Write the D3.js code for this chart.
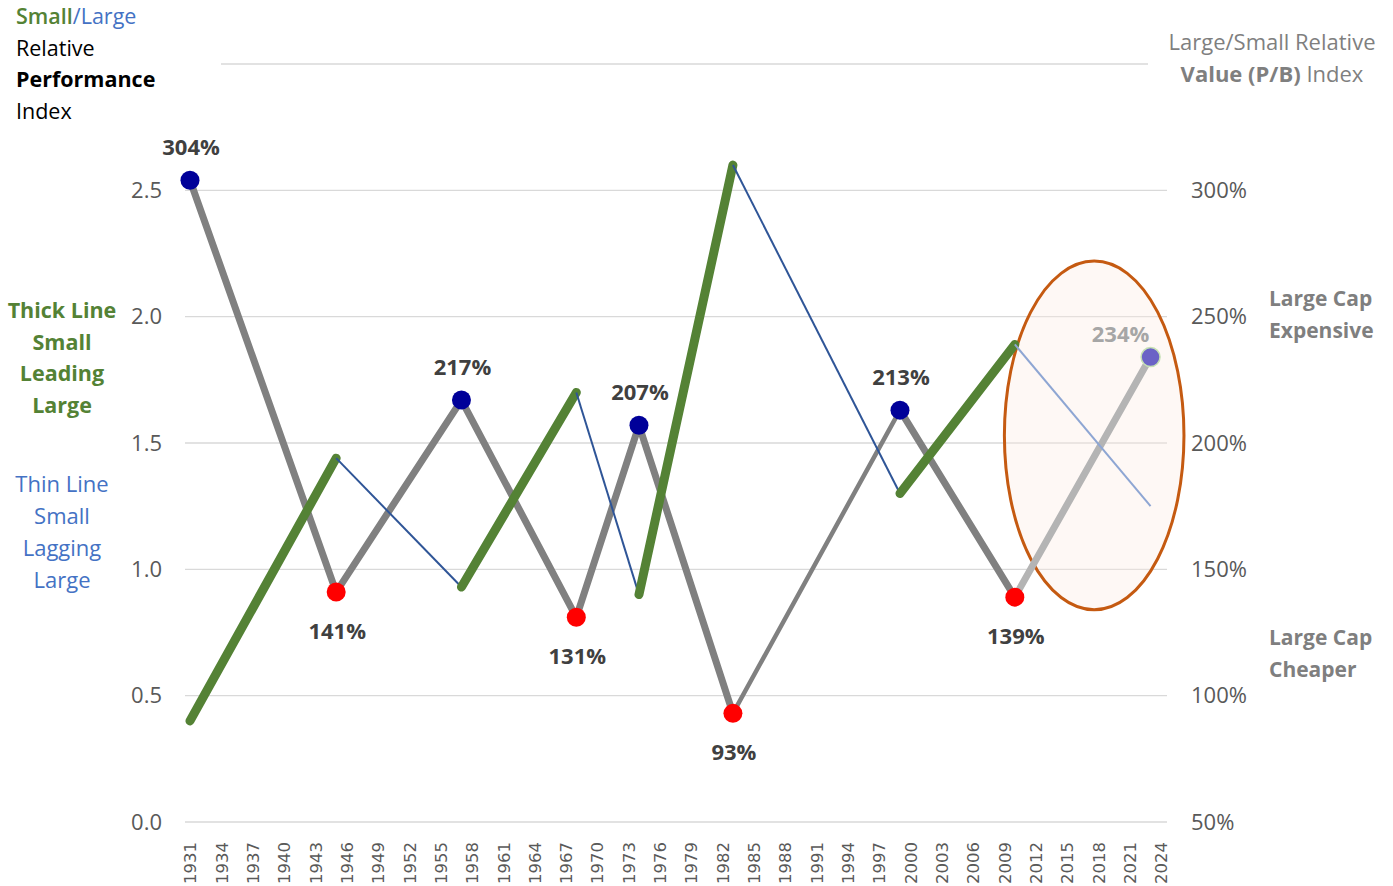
<!DOCTYPE html>
<html>
<head>
<meta charset="utf-8">
<script src="https://cdn.jsdelivr.net/npm/d3@7"></script>
<style>
  body { margin: 0; background: #fff; }
  svg { display: block; }
</style>
</head>
<body>
<div id="chart"></div>
<script>
// Left axis: Small/Large relative performance index (thick green = small leading, thin blue = small lagging)
const perfYears = [1931, 1945, 1957, 1968, 1974, 1983, 1999, 2010, 2023];
const perfValues = [0.40, 1.44, 0.93, 1.70, 0.90, 2.60, 1.30, 1.89, 1.25];

// Right axis: Large/Small relative value (P/B) index, %
const pbYears = [1931, 1945, 1957, 1968, 1974, 1983, 1999, 2010, 2023];
const pbValues = [304, 141, 217, 131, 207, 93, 213, 139, 234];
const pbLabels = ["304%", "141%", "217%", "131%", "207%", "93%", "213%", "139%", "234%"];
const pbKind = ["peak", "trough", "peak", "trough", "peak", "trough", "peak", "trough", "now"];

const leftTicks = [0, 0.5, 1.0, 1.5, 2.0, 2.5, 3.0];
const rightTicks = [50, 100, 150, 200, 250, 300];
const yearTicks = [1931, 1934, 1937, 1940, 1943, 1946, 1949, 1952, 1955, 1958, 1961, 1964,
  1967, 1970, 1973, 1976, 1979, 1982, 1985, 1988, 1991, 1994, 1997, 2000, 2003, 2006,
  2009, 2012, 2015, 2018, 2021, 2024];

const W = 1393, H = 886;
const FONT = "'Open Sans', 'Noto Sans', sans-serif";

const svg = d3.select("#chart").append("svg")
  .attr("width", W).attr("height", H)
  .style("font-family", FONT);

const x = d3.scaleLinear().domain([1931, 2024]).range([190, 1161]);
const yL = d3.scaleLinear().domain([0, 3]).range([822, 64]);
const yR = d3.scaleLinear().domain([50, 350]).range([822, 64]);

// gridlines
svg.append("g").selectAll("line")
  .data(leftTicks)
  .join("line")
  .attr("x1", 185).attr("x2", 1167)
  .attr("y1", d => yL(d)).attr("y2", d => yL(d))
  .attr("stroke", "#d9d9d9").attr("stroke-width", 1.3);

// left axis labels
const leftAxis = svg.append("g")
  .attr("transform", `translate(${162},0)`)
  .call(d3.axisLeft(yL).tickValues(leftTicks.slice(0, 6)).tickFormat(d3.format(".1f")).tickSize(0).tickPadding(0));
leftAxis.select(".domain").remove();
leftAxis.selectAll("text").attr("fill", "#595959").style("font-size", "22px").style("font-family", FONT);

// right axis labels
const rightAxis = svg.append("g")
  .attr("transform", `translate(${1191},0)`)
  .call(d3.axisRight(yR).tickValues(rightTicks).tickFormat(d => d + "%").tickSize(0).tickPadding(0));
rightAxis.select(".domain").remove();
rightAxis.selectAll("text").attr("fill", "#595959").style("font-size", "22px").style("font-family", FONT);

// x axis year labels (rotated)
const xAxis = svg.append("g")
  .attr("transform", `translate(0,${838})`)
  .call(d3.axisBottom(x).tickValues(yearTicks).tickFormat(d => String(d)).tickSize(0).tickPadding(0));
xAxis.select(".domain").remove();
xAxis.selectAll("text")
  .attr("fill", "#595959")
  .style("font-size", "16.5px")
  .style("font-family", "'DejaVu Sans', Verdana, sans-serif")
  .attr("text-anchor", "end")
  .attr("transform", "rotate(-90)")
  .attr("x", -4).attr("y", 0).attr("dy", "0.35em");

// highlight ellipse around the latest move
const ell = { year: 2017.6, value: 1.53, rxYears: 8.6, ryValue: 0.69 };
svg.append("ellipse")
  .attr("cx", x(ell.year)).attr("cy", yL(ell.value))
  .attr("rx", x(ell.year + ell.rxYears) - x(ell.year))
  .attr("ry", yL(ell.value) - yL(ell.value + ell.ryValue))
  .attr("fill", "#fbece2").attr("fill-opacity", 0.35)
  .attr("stroke", "#c55a11").attr("stroke-width", 3);

// P/B gray line segments
const pbPts = pbYears.map((yr, i) => ({ x: x(yr), y: yR(pbValues[i]) }));
const pbSegs = d3.pairs(pbPts).map(([a, b], i) => ({ a, b, i }));
svg.append("g").selectAll("line")
  .data(pbSegs)
  .join("line")
  .attr("x1", d => d.a.x).attr("y1", d => d.a.y)
  .attr("x2", d => d.b.x).attr("y2", d => d.b.y)
  .attr("stroke", d => d.i === pbSegs.length - 1 ? "#b4b4b4" : "#808080")
  .attr("stroke-width", d => d.i === 5 ? 4.5 : 7)
  .attr("stroke-linecap", "round");

// performance segments: rising = thick green, falling = thin blue
const perfPts = perfYears.map((yr, i) => ({ x: x(yr), y: yL(perfValues[i]), v: perfValues[i] }));
const perfSegs = d3.pairs(perfPts).map(([a, b], i) => ({ a, b, i, up: b.v > a.v }));
svg.append("g").selectAll("line")
  .data(perfSegs)
  .join("line")
  .attr("x1", d => d.a.x).attr("y1", d => d.a.y)
  .attr("x2", d => d.b.x).attr("y2", d => d.b.y)
  .attr("stroke", d => d.up ? "#548235" : (d.i === perfSegs.length - 1 ? "#8ea6d3" : "#2f5597"))
  .attr("stroke-width", d => d.up ? 9 : 2)
  .attr("stroke-linecap", d => d.up ? "round" : "butt");

// markers
const markerFill = { peak: "#000099", trough: "#ff0000", now: "#6b63c6" };
svg.append("g").selectAll("circle")
  .data(pbPts.map((p, i) => ({ ...p, kind: pbKind[i] })))
  .join("circle")
  .attr("cx", d => d.x).attr("cy", d => d.y)
  .attr("r", 9.5)
  .attr("fill", d => markerFill[d.kind])
  .attr("stroke", d => d.kind === "now" ? "#c5e0b4" : "none")
  .attr("stroke-width", 1.5);

// data labels
svg.append("g").selectAll("text")
  .data(pbPts.map((p, i) => ({ ...p, kind: pbKind[i], label: pbLabels[i] })))
  .join("text")
  .attr("x", d => d.kind === "now" ? d.x - 30 : d.x + 1)
  .attr("y", d => d.kind === "peak" ? d.y - 33 : d.kind === "trough" ? d.y + 39 : d.y - 23)
  .attr("dy", "0.35em")
  .attr("text-anchor", "middle")
  .attr("fill", d => d.kind === "now" ? "#a6a6a6" : "#404040")
  .style("font-size", "22px")
  .style("font-weight", "bold")
  .text(d => d.label);

// white boxes of the axis titles (hide top gridline ends)
svg.append("rect").attr("x", 0).attr("y", 0).attr("width", 221).attr("height", 128).attr("fill", "#fff");
svg.append("rect").attr("x", 1148).attr("y", 25).attr("width", 245).attr("height", 70).attr("fill", "#fff");

// left title
const lt = svg.append("text").attr("x", 16).style("font-size", "21.5px").attr("fill", "#000");
lt.append("tspan").attr("x", 16).attr("y", 24).attr("fill", "#548235").style("font-weight", 600).text("Small");
lt.append("tspan").attr("fill", "#4472c4").text("/Large");
lt.append("tspan").attr("x", 16).attr("y", 56).text("Relative");
lt.append("tspan").attr("x", 16).attr("y", 87).style("font-weight", "bold").text("Performance");
lt.append("tspan").attr("x", 16).attr("y", 119).text("Index");

// line meaning notes
const thick = ["Thick Line", "Small", "Leading", "Large"];
const thin = ["Thin Line", "Small", "Lagging", "Large"];
svg.append("g").selectAll("text")
  .data(thick)
  .join("text")
  .attr("x", 62).attr("y", (d, i) => 318 + i * 31.7)
  .attr("text-anchor", "middle")
  .attr("fill", "#548235")
  .style("font-size", "21.5px").style("font-weight", "bold")
  .text(d => d);
svg.append("g").selectAll("text")
  .data(thin)
  .join("text")
  .attr("x", 62).attr("y", (d, i) => 492 + i * 32)
  .attr("text-anchor", "middle")
  .attr("fill", "#4472c4")
  .style("font-size", "22px")
  .text(d => d);

// right title
const rt = svg.append("text").attr("text-anchor", "middle").style("font-size", "22px").attr("fill", "#7f7f7f");
rt.append("tspan").attr("x", 1272).attr("y", 50).text("Large/Small Relative");
rt.append("tspan").attr("x", 1272).attr("y", 82).style("font-weight", "bold").text("Value (P/B)");
rt.append("tspan").text(" Index");

// right side notes
const notes = [
  { lines: ["Large Cap", "Expensive"], value: 262 },
  { lines: ["Large Cap", "Cheaper"], value: 128 }
];
notes.forEach(n => {
  svg.append("g").selectAll("text")
    .data(n.lines)
    .join("text")
    .attr("x", 1269).attr("y", (d, i) => yR(n.value) + 20 + i * 32)
    .attr("fill", "#7f7f7f")
    .style("font-size", "21px").style("font-weight", "bold")
    .text(d => d);
});
</script>
</body>
</html>
